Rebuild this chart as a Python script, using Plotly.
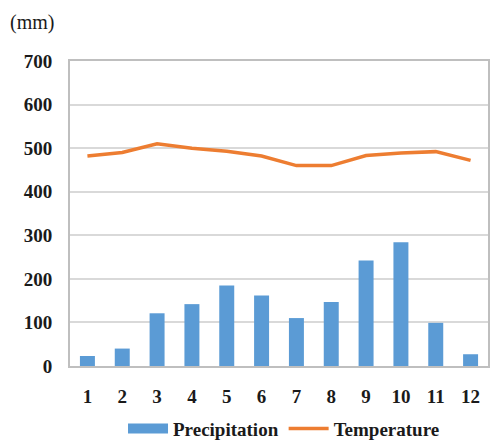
import plotly.graph_objects as go

months = [1, 2, 3, 4, 5, 6, 7, 8, 9, 10, 11, 12]
month_labels = [str(m) for m in months]
precipitation = [23, 40, 121, 142, 185, 162, 110, 147, 242, 284, 99, 27]
temperature = [482, 490, 510, 500, 493, 482, 460, 460, 483, 489, 492, 472]
y_ticks = [0, 100, 200, 300, 400, 500, 600, 700]

font_family = "Times New Roman, Liberation Serif, serif"
grid_color = "#d9d9d9"
axis_color = "#bfbfbf"
bar_color = "#5B9BD5"
line_color = "#ED7D31"
text_color = "#1a1a1a"

fig = go.Figure()
fig.add_trace(go.Bar(
    x=months, y=precipitation, name="Precipitation",
    marker=dict(color=bar_color, line=dict(width=0)),
    showlegend=False,
))
# legend key for the bars: a wide flat swatch
fig.add_trace(go.Scatter(
    x=[None], y=[None], name="Precipitation", mode="lines",
    line=dict(color=bar_color, width=10),
))
fig.add_trace(go.Scatter(
    x=months, y=temperature, name="Temperature", mode="lines",
    line=dict(color=line_color, width=3.5),
))

fig.update_layout(
    width=491, height=448,
    margin=dict(l=70, r=1, t=61, b=76),
    paper_bgcolor="white", plot_bgcolor="white",
    bargap=0.57,
    font=dict(family=font_family, color=text_color),
    showlegend=True,
    legend=dict(
        orientation="h", x=0.512, xanchor="center", y=-0.205, yanchor="middle",
        font=dict(family=font_family, size=19, color=text_color, weight="bold"),
        itemwidth=40, traceorder="normal",
    ),
    annotations=[dict(
        text="(mm)", xref="paper", yref="paper", x=-0.148, y=1.125,
        xanchor="left", yanchor="middle", showarrow=False,
        font=dict(family=font_family, size=20, color=text_color),
    )],
)

fig.update_xaxes(
    tickmode="array", tickvals=months, ticktext=month_labels,
    range=[0.5, 12.5], showgrid=False, zeroline=False,
    showline=True, linecolor=axis_color, linewidth=2, mirror=True,
    ticks="", ticklabelstandoff=12,
    tickfont=dict(family=font_family, size=19, color=text_color, weight="bold"),
)
fig.update_yaxes(
    tickmode="array", tickvals=y_ticks, range=[0, 700],
    showgrid=True, gridcolor=grid_color, gridwidth=2, zeroline=False,
    showline=True, linecolor=axis_color, linewidth=2, mirror=True,
    ticks="", ticklabelstandoff=12,
    tickfont=dict(family=font_family, size=19, color=text_color, weight="bold"),
)

fig.write_html("out.html")
